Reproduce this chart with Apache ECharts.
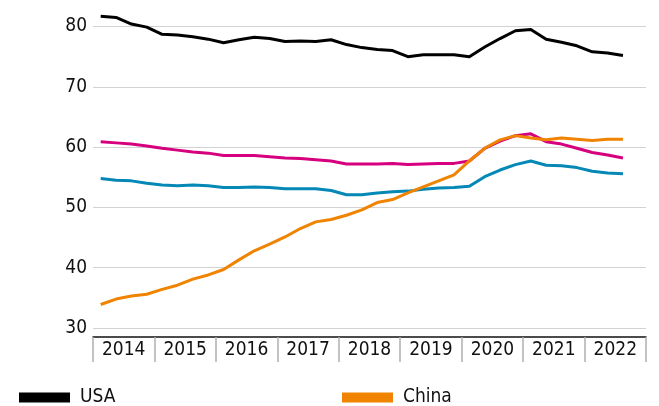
<!DOCTYPE html>
<html>
<head>
<meta charset="utf-8">
<script src="https://cdn.jsdelivr.net/npm/echarts@6/dist/echarts.min.js"></script>
<style>
  html, body { margin: 0; padding: 0; background: #fff; }
  #chart { width: 659px; height: 406px; }
</style>
</head>
<body>
<div id="chart"></div>
<script>
// Year labels on the category axis
const years = ['2014', '2015', '2016', '2017', '2018', '2019', '2020', '2021', '2022'];

// Quarterly values, 2014 Q1 .. 2022 Q3
const usa = [81.7, 81.5, 80.4, 79.9, 78.7, 78.6, 78.3, 77.9, 77.3, 77.8, 78.2, 78.0,
  77.5, 77.6, 77.5, 77.8, 77.0, 76.5, 76.2, 76.0, 75.0, 75.3, 75.3, 75.3,
  75.0, 76.6, 78.0, 79.3, 79.5, 77.9, 77.4, 76.8, 75.8, 75.6, 75.2];
const seriesPink = [60.9, 60.7, 60.5, 60.2, 59.8, 59.5, 59.2, 59.0, 58.6, 58.6, 58.6, 58.4,
  58.2, 58.1, 57.9, 57.7, 57.2, 57.2, 57.2, 57.3, 57.1, 57.2, 57.3, 57.3,
  57.7, 59.8, 61.0, 61.9, 62.2, 60.9, 60.5, 59.8, 59.1, 58.7, 58.2];
const seriesBlue = [54.8, 54.5, 54.4, 54.0, 53.7, 53.6, 53.7, 53.6, 53.3, 53.3, 53.4, 53.3,
  53.1, 53.1, 53.1, 52.8, 52.1, 52.1, 52.4, 52.6, 52.7, 53.0, 53.2, 53.3,
  53.5, 55.1, 56.2, 57.1, 57.7, 57.0, 56.9, 56.6, 56.0, 55.7, 55.6];
const china = [33.9, 34.8, 35.3, 35.6, 36.4, 37.1, 38.1, 38.8, 39.7, 41.3, 42.8, 43.9,
  45.1, 46.5, 47.6, 48.0, 48.7, 49.6, 50.8, 51.3, 52.4, 53.4, 54.4, 55.4,
  57.7, 59.8, 61.2, 61.9, 61.5, 61.2, 61.5, 61.3, 61.1, 61.3, 61.3];

// Value axis ticks
const yTicks = { min: 30, max: 80, interval: 10 };

// One category per quarter for the data axis
const quarters = [];
years.forEach(y => ['Q1', 'Q2', 'Q3', 'Q4'].forEach(q => quarters.push(y + ' ' + q)));

const FONT = "'DejaVu Sans Condensed', 'Liberation Sans', sans-serif";

const chart = echarts.init(document.getElementById('chart'), null, { renderer: 'canvas' });

function lineSeries(name, data, color) {
  return {
    name, type: 'line', data, xAxisIndex: 0, yAxisIndex: 0,
    showSymbol: false, symbol: 'none', clip: false,
    lineStyle: { width: 3, color, join: 'round' },
    itemStyle: { color },
    emphasis: { disabled: true }
  };
}

const legendBase = {
  top: 383, icon: 'rect', itemWidth: 51, itemHeight: 10, selectedMode: false,
  textStyle: { fontFamily: FONT, fontSize: 19, color: '#111', padding: [0, 0, 0, 5] }
};

chart.setOption({
  animation: false,
  backgroundColor: '#ffffff',
  grid: { left: 93, right: 13, top: 26.5, height: 301.5, containLabel: false },
  legend: [
    Object.assign({ data: ['USA'], left: 14 }, legendBase),
    Object.assign({ data: ['China'], left: 337 }, legendBase)
  ],
  xAxis: [
    {
      type: 'category', data: quarters, boundaryGap: true,
      show: false
    },
    {
      type: 'category', data: years, boundaryGap: true, position: 'bottom', offset: 9,
      axisLine: { show: true, lineStyle: { color: '#111', width: 1.5 } },
      axisTick: { show: true, interval: 0, length: 25, lineStyle: { color: '#b0b0b0', width: 1.5 } },
      axisLabel: { interval: 0, fontFamily: FONT, fontSize: 19, color: '#111', margin: 4 },
      splitLine: { show: false }
    }
  ],
  yAxis: {
    type: 'value', min: yTicks.min, max: yTicks.max, interval: yTicks.interval,
    axisLine: { show: false }, axisTick: { show: false },
    axisLabel: { fontFamily: FONT, fontSize: 19, color: '#111', margin: 6 },
    splitLine: { show: true, lineStyle: { color: '#d2d2d2', width: 1.2 } }
  },
  series: [
    lineSeries('USA', usa, '#000000'),
    lineSeries('Series C', seriesPink, '#d6007f'),
    lineSeries('Series D', seriesBlue, '#0588b6'),
    lineSeries('China', china, '#f08300')
  ]
});
</script>
</body>
</html>
